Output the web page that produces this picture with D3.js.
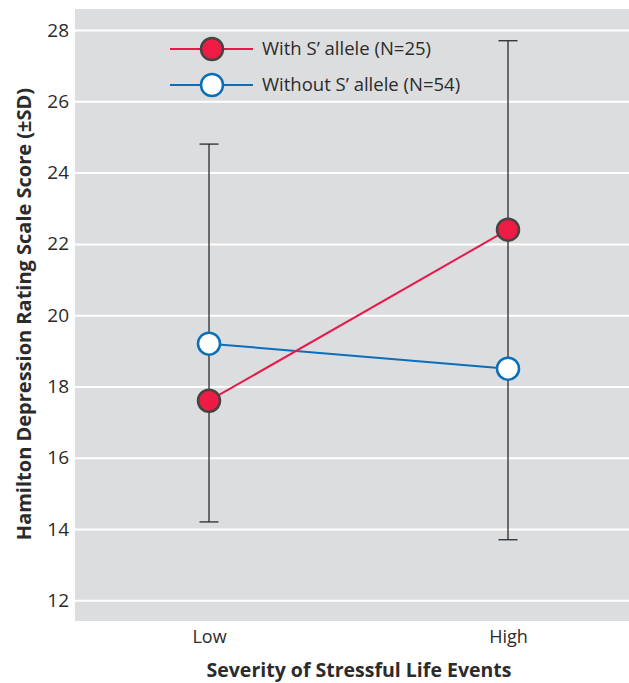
<!DOCTYPE html>
<html>
<head>
<meta charset="utf-8">
<script src="https://cdn.jsdelivr.net/npm/d3@7"></script>
<style>
  body { margin: 0; background: #fff; }
  text { font-family: "Open Sans", "Noto Sans", sans-serif; fill: #2b2b2b; }
</style>
</head>
<body>
<div id="chart"></div>
<script>
// data
const categories = ['Low', 'High']
const withS = [17.6, 22.4]      // With S' allele (N=25)
const withoutS = [19.2, 18.5]   // Without S' allele (N=54)
const errTop = [24.8, 27.7]
const errBottom = [14.2, 13.7]
const yTicks = [12, 14, 16, 18, 20, 22, 24, 26, 28]
const legendLabels = ['With S\u2019 allele (N=25)', 'Without S\u2019 allele (N=54)']

const width = 629,
  height = 683
const plot = { left: 75, right: 629, top: 9, bottom: 621 }

const svg = d3.select('#chart')
  .append('svg')
  .attr('width', width)
  .attr('height', height)

const x = d3.scalePoint()
  .domain(categories)
  .range([209, 508])

const y = d3.scaleLinear()
  .domain([11.42, 28.59])
  .range([plot.bottom, plot.top])

// background
svg.append('rect')
  .attr('x', plot.left)
  .attr('y', plot.top)
  .attr('width', plot.right - plot.left)
  .attr('height', plot.bottom - plot.top)
  .attr('fill', '#dcdddf')

// gridlines + tick labels
const yAxis = svg.append('g')
  .attr('transform', `translate(${plot.left},0)`)
  .call(d3.axisLeft(y).tickValues(yTicks).tickSize(-(plot.right - plot.left)).tickPadding(6))
yAxis.select('.domain').remove()
yAxis.selectAll('.tick line').attr('stroke', '#fff').attr('stroke-width', 2)
yAxis.selectAll('.tick text')
  .attr('font-size', 19)
  .attr('fill', '#2b2b2b')
  .style('font-family', '"Open Sans", sans-serif')

// x labels
const xAxis = svg.append('g')
  .attr('transform', `translate(0,${plot.bottom})`)
  .call(d3.axisBottom(x).tickSize(0).tickPadding(9))
xAxis.select('.domain').remove()
xAxis.selectAll('.tick text')
  .attr('font-size', 18)
  .attr('fill', '#2b2b2b')
  .style('font-family', '"Open Sans", sans-serif')

// error bars
const capW = 9.5
categories.forEach((c, i) => {
  const g = svg.append('g').attr('stroke', '#2b2b2b').attr('stroke-width', 1.3)
  g.append('line')
    .attr('x1', x(c)).attr('x2', x(c))
    .attr('y1', y(errTop[i])).attr('y2', y(errBottom[i]))
  g.append('line')
    .attr('x1', x(c) - capW).attr('x2', x(c) + capW)
    .attr('y1', y(errTop[i])).attr('y2', y(errTop[i]))
  g.append('line')
    .attr('x1', x(c) - capW).attr('x2', x(c) + capW)
    .attr('y1', y(errBottom[i])).attr('y2', y(errBottom[i]))
})

const line = d3.line()
  .x((d, i) => x(categories[i]))
  .y(d => y(d))

const series = [
  { values: withoutS, color: '#0a6fba', fill: '#fff', stroke: '#0a6fba' },
  { values: withS, color: '#e8194a', fill: '#ee1c45', stroke: '#444' }
]

series.forEach(s => {
  svg.append('path')
    .datum(s.values)
    .attr('d', line)
    .attr('fill', 'none')
    .attr('stroke', s.color)
    .attr('stroke-width', 2)
  svg.selectAll(null)
    .data(s.values)
    .enter()
    .append('circle')
    .attr('cx', (d, i) => x(categories[i]))
    .attr('cy', d => y(d))
    .attr('r', 11)
    .attr('fill', s.fill)
    .attr('stroke', s.stroke)
    .attr('stroke-width', 2.5)
})

// legend
const legend = [
  { label: legendLabels[0], color: '#e8194a', fill: '#ee1c45', stroke: '#444', y: 49 },
  { label: legendLabels[1], color: '#0a6fba', fill: '#fff', stroke: '#0a6fba', y: 85 }
]
legend.forEach(l => {
  svg.append('line')
    .attr('x1', 170).attr('x2', 253)
    .attr('y1', l.y).attr('y2', l.y)
    .attr('stroke', l.color).attr('stroke-width', 2)
  svg.append('circle')
    .attr('cx', 212).attr('cy', l.y).attr('r', 11)
    .attr('fill', l.fill).attr('stroke', l.stroke).attr('stroke-width', 2.5)
  svg.append('text')
    .attr('x', 262).attr('y', l.y + 6)
    .attr('font-size', 18.5)
    .text(l.label)
})

// axis titles
svg.append('text')
  .attr('transform', `translate(31,314) rotate(-90)`)
  .attr('text-anchor', 'middle')
  .attr('font-size', 20)
  .attr('font-weight', 'bold')
  .text('Hamilton Depression Rating Scale Score (\u00b1SD)')

svg.append('text')
  .attr('x', 359)
  .attr('y', 677)
  .attr('text-anchor', 'middle')
  .attr('font-size', 19.5)
  .attr('font-weight', 'bold')
  .text('Severity of Stressful Life Events')
</script>
</body>
</html>
